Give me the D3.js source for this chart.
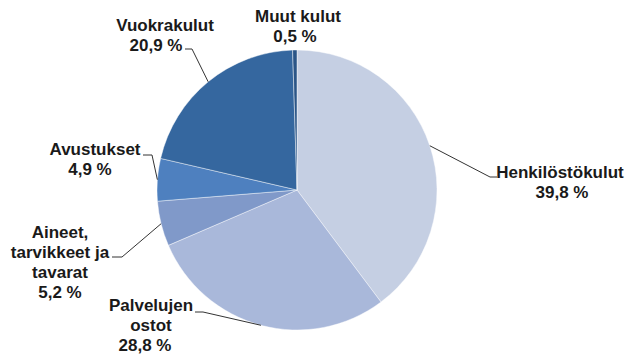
<!DOCTYPE html>
<html>
<head>
<meta charset="utf-8">
<script src="https://cdn.jsdelivr.net/npm/d3@7/dist/d3.min.js"></script>
<style>
  html, body { margin: 0; padding: 0; background: #ffffff; }
  svg { display: block; }
  text { font-family: "Liberation Sans", Arial, sans-serif; font-weight: bold; font-size: 17px; fill: #1a1a1a; }
</style>
</head>
<body>
<script>
// Cost categories, shares (%) and slice colours, clockwise from 12 o'clock
const categories = ["Henkilöstökulut", "Palvelujen ostot", "Aineet, tarvikkeet ja tavarat", "Avustukset", "Vuokrakulut", "Muut kulut"];
const shares = [39.8, 28.8, 5.2, 4.9, 20.9, 0.5];
const shareLabels = ["39,8 %", "28,8 %", "5,2 %", "4,9 %", "20,9 %", "0,5 %"];
const nameLines = [["Henkilöstökulut"], ["Palvelujen", "ostot"], ["Aineet,", "tarvikkeet ja", "tavarat"], ["Avustukset"], ["Vuokrakulut"], ["Muut kulut"]];
const colors = ["#c5cfe3", "#a9b8da", "#8099c9", "#4e80bf", "#35679f", "#2b5587"];

// Label placement: text centre x, first baseline, x of the % line,
// and the elbow of the leader line (null = no leader)
const labelLayout = [
  { x: 560, y: 178, px: 562, elbow: [[490, 177], [497, 177]] },
  { x: 151, y: 311, px: 145, elbow: [[203, 312], [195, 312]] },
  { x: 60, y: 238, px: 60, elbow: [[122, 257], [112, 257]] },
  { x: 95, y: 155, px: 90, elbow: [[152, 155], [143, 155]] },
  { x: 165, y: 31, px: 156, elbow: [[192, 49], [185, 49]] },
  { x: 298, y: 22, px: 295, elbow: null }
];

const width = 630, height = 354;
const cx = 297, cy = 190, radius = 140;
const lineStep = 20;

const svg = d3.select("body").append("svg")
  .attr("width", width).attr("height", height);

const data = categories.map((c, i) => ({ name: c, value: shares[i], i }));

const pie = d3.pie().value(d => d.value).sort(null);
const arc = d3.arc().innerRadius(0).outerRadius(radius);
const arcs = pie(data);

const g = svg.append("g").attr("transform", `translate(${cx},${cy})`);

g.selectAll("path.slice")
  .data(arcs)
  .join("path")
  .attr("class", "slice")
  .attr("d", arc)
  .attr("fill", d => colors[d.data.i])
  .attr("stroke", "#ffffff")
  .attr("stroke-opacity", 0.55)
  .attr("stroke-width", 0.8);

// Leader lines from the arc edge at each slice's mid angle
const line = d3.line();
arcs.forEach(a => {
  const L = labelLayout[a.data.i];
  if (!L.elbow) return;
  const mid = (a.startAngle + a.endAngle) / 2;
  const start = [cx + radius * Math.sin(mid), cy - radius * Math.cos(mid)];
  svg.append("path")
    .attr("d", line([start, ...L.elbow]))
    .attr("fill", "none")
    .attr("stroke", "#333333")
    .attr("stroke-width", 1);
});

// Labels: category name lines followed by the share
arcs.forEach(a => {
  const i = a.data.i;
  const L = labelLayout[i];
  const lines = nameLines[i];
  lines.forEach((t, k) => {
    svg.append("text")
      .attr("x", L.x).attr("y", L.y + k * lineStep)
      .attr("text-anchor", "middle")
      .text(t);
  });
  svg.append("text")
    .attr("x", L.px).attr("y", L.y + lines.length * lineStep)
    .attr("text-anchor", "middle")
    .text(shareLabels[i]);
});
</script>
</body>
</html>
